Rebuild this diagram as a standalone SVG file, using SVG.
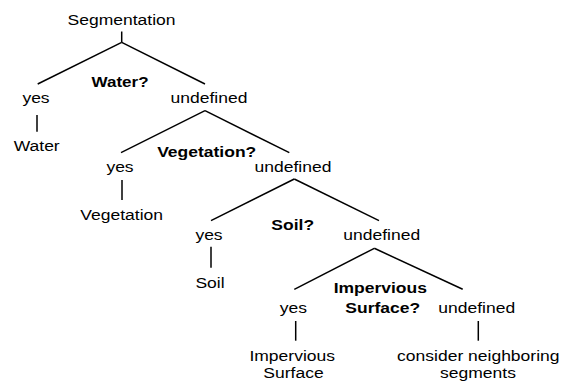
<svg xmlns="http://www.w3.org/2000/svg" width="565" height="383" viewBox="0 0 565 383">
<style>
text{font-family:"Liberation Sans",Arial,sans-serif;font-size:15.5px;fill:#000;text-anchor:middle}
.b{font-weight:bold}
.c line{stroke:#000;stroke-width:1.5;stroke-linecap:butt}
</style>
<rect width="565" height="383" fill="#fff"/>
<g class="c" id="connectors">
<line x1="121.7" y1="31.5" x2="121.7" y2="42.3"/>
<line x1="121.7" y1="42.3" x2="37.7" y2="84"/>
<line x1="121.7" y1="42.3" x2="205" y2="84"/>
<line x1="37" y1="115" x2="37" y2="131.7"/>
<line x1="205" y1="110.7" x2="121" y2="152.7"/>
<line x1="205" y1="110.7" x2="289.3" y2="152.7"/>
<line x1="122" y1="180" x2="122" y2="200"/>
<line x1="294.3" y1="179" x2="211" y2="220.7"/>
<line x1="294.3" y1="179" x2="379" y2="220.7"/>
<line x1="211" y1="246.7" x2="211" y2="267.7"/>
<line x1="374.3" y1="248.3" x2="294.3" y2="289.3"/>
<line x1="374.3" y1="248.3" x2="462.7" y2="289.3"/>
<line x1="295.7" y1="321" x2="295.7" y2="340.7"/>
<line x1="478.3" y1="321" x2="478.3" y2="340.7"/>
</g>
<g id="segmentation"><text transform="translate(121.5,25) scale(1.13,1)">Segmentation</text></g>
<g id="q-water"><text class="b" transform="translate(120,87.3) scale(1.1,1)">Water?</text></g>
<g id="yes1"><text transform="translate(36,103) scale(1.13,1)">yes</text></g>
<g id="undef1"><text transform="translate(209,103) scale(1.13,1)">undefined</text></g>
<g id="water"><text transform="translate(36.7,151) scale(1.13,1)">Water</text></g>
<g id="q-vegetation"><text class="b" transform="translate(206.7,156.7) scale(1.13,1)">Vegetation?</text></g>
<g id="yes2"><text transform="translate(120,172) scale(1.13,1)">yes</text></g>
<g id="undef2"><text transform="translate(293,172) scale(1.13,1)">undefined</text></g>
<g id="vegetation"><text transform="translate(121.7,220) scale(1.13,1)">Vegetation</text></g>
<g id="q-soil"><text class="b" transform="translate(292.7,230) scale(1.13,1)">Soil?</text></g>
<g id="yes3"><text transform="translate(209,240) scale(1.13,1)">yes</text></g>
<g id="undef3"><text transform="translate(381.7,240) scale(1.13,1)">undefined</text></g>
<g id="soil"><text transform="translate(210,288) scale(1.13,1)">Soil</text></g>
<g id="q-impervious"><text class="b" transform="translate(380.3,293.3) scale(1.13,1)">Impervious</text><text class="b" transform="translate(382.8,313.3) scale(1.13,1)">Surface?</text></g>
<g id="yes4"><text transform="translate(293.3,313.3) scale(1.13,1)">yes</text></g>
<g id="undef4"><text transform="translate(476.7,313.3) scale(1.13,1)">undefined</text></g>
<g id="impervious"><text transform="translate(292.2,360.7) scale(1.13,1)">Impervious</text><text transform="translate(293.5,378) scale(1.13,1)">Surface</text></g>
<g id="neighbors"><text transform="translate(478.3,360.7) scale(1.13,1)">consider neighboring</text><text transform="translate(478,378) scale(1.13,1)">segments</text></g>
</svg>
